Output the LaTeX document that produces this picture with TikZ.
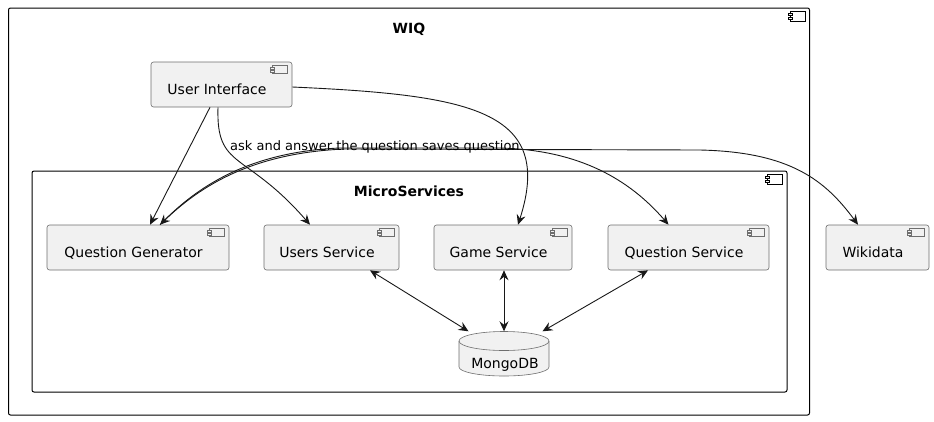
\documentclass[tikz,border=0pt]{standalone}
\usepackage{fontspec}
\setmainfont{DejaVu Sans}
\usetikzlibrary{arrows.meta,positioning}
\definecolor{compfill}{HTML}{F1F1F1}
\definecolor{compline}{HTML}{6E6E6E}
\definecolor{edgeline}{HTML}{181818}
\tikzset{compicon/.pic={
  \draw (-15,0) rectangle (0,8);
  \draw[fill=compfill] (-17,1.4) rectangle (-13,3.4);
  \draw[fill=compfill] (-17,4.6) rectangle (-13,6.6);
}}

\begin{document}
\begin{tikzpicture}[x=1pt,y=-1pt,>={Stealth[length=10pt,width=9pt,inset=3.5pt]},
  comp/.style={draw=compline,fill=compfill,line width=.6pt,rounded corners=2.5pt,minimum height=45,
    text height=19pt,text depth=0pt,font=\fontsize{14}{16}\selectfont,execute at end node={\hspace{9pt}}},
  frame/.style={draw=black,line width=1pt,rounded corners=2pt,inner sep=0pt},
  title/.style={font=\fontsize{14}{16}\selectfont\bfseries,anchor=base},
  lbl/.style={font=\fontsize{13}{15}\selectfont,anchor=base west,inner sep=0pt},
  link/.style={->,draw=edgeline,line width=.9pt}]
\useasboundingbox (0,0) rectangle (934,421);
% containers
\node[frame,minimum width=801,minimum height=407] (wiq) at (409,211.5) {};
\node[title] (wiqtitle) at (409,33) {WIQ};
\node[frame,minimum width=755,minimum height=221] (ms) at (409.5,281.5) {};
\node[title] (mstitle) at (409,196) {MicroServices};
\foreach \n in {wiq,ms} \pic[black,line width=.9pt,yscale=1.25] at ([shift={(-5,4)}]\n.north east) {compicon};
% components
\node[comp,minimum width=141] (ui) at (221.5,84.5) {User Interface};
\node[comp,minimum width=182] (qg) at (138,247.5) {Question Generator};
\node[comp,minimum width=135] (us) at (331.5,247.5) {Users Service};
\node[comp,minimum width=138] (gs) at (503,247.5) {Game Service};
\node[comp,minimum width=161] (qs) at (688.5,247.5) {Question Service};
\node[comp,minimum width=103] (wd) at (877.5,247.5) {Wikidata};
\foreach \n in {ui,qg,us,gs,qs,wd} \pic[compline,line width=.6pt] at ([shift={(-5,4)}]\n.north east) {compicon};
% database
\node[inner sep=0pt,minimum width=90,minimum height=45] (db) at (504,354) {};
\draw[compline,fill=compfill,line width=.6pt] ([shift={(-45,-13)}]db.center) -- ([shift={(-45,13)}]db.center)
  arc[start angle=180,end angle=360,x radius=45pt,y radius=9pt] -- ([shift={(45,-13)}]db.center)
  arc[start angle=0,end angle=180,x radius=45pt,y radius=9.5pt] -- cycle;
\draw[compline,line width=.6pt] ([shift={(-45,-13)}]db.center) arc[start angle=180,end angle=360,x radius=45pt,y radius=9.5pt];
\node[font=\fontsize{14}{16}\selectfont,anchor=base] (dbtext) at (505,368) {MongoDB};
% connectors
\draw[link] ([xshift=-11.5pt]ui.south) -- ([xshift=12pt]qg.north);
\draw[link] ([xshift=-3.5pt]ui.south) .. controls (216,170) and (245,150) .. ([xshift=-21.5pt]us.north);
\draw[link] ([shift={(0,2.5)}]ui.east) .. controls (470,95) and (555,110) .. ([xshift=15pt]gs.north);
\draw[link,<->] ([xshift=22pt]qg.north) .. controls (195,190) and (245,152) .. (340,148) -- (500,148)
  .. controls (580,150) and (630,180) .. ([xshift=-20pt]qs.north);
\draw[link] ([xshift=22pt]qg.north) .. controls (195,190) and (247,153) .. (345,149) -- (700,150)
  .. controls (790,152) and (825,180) .. ([xshift=-19.5pt]wd.north);
\draw[link,<->] ([xshift=38.5pt]us.south) -- ([xshift=-35.5pt]db.north);
\draw[link,<->] ([xshift=1pt]gs.south) -- ([xshift=0pt]db.north);
\draw[link,<->] ([xshift=-40.5pt]qs.south) -- ([xshift=38.5pt]db.north);
\node[lbl] (askl) at (230,150) {ask and answer the question};
\node[lbl] (savesl) at (422,150) {saves question};
\end{tikzpicture}
\end{document}
